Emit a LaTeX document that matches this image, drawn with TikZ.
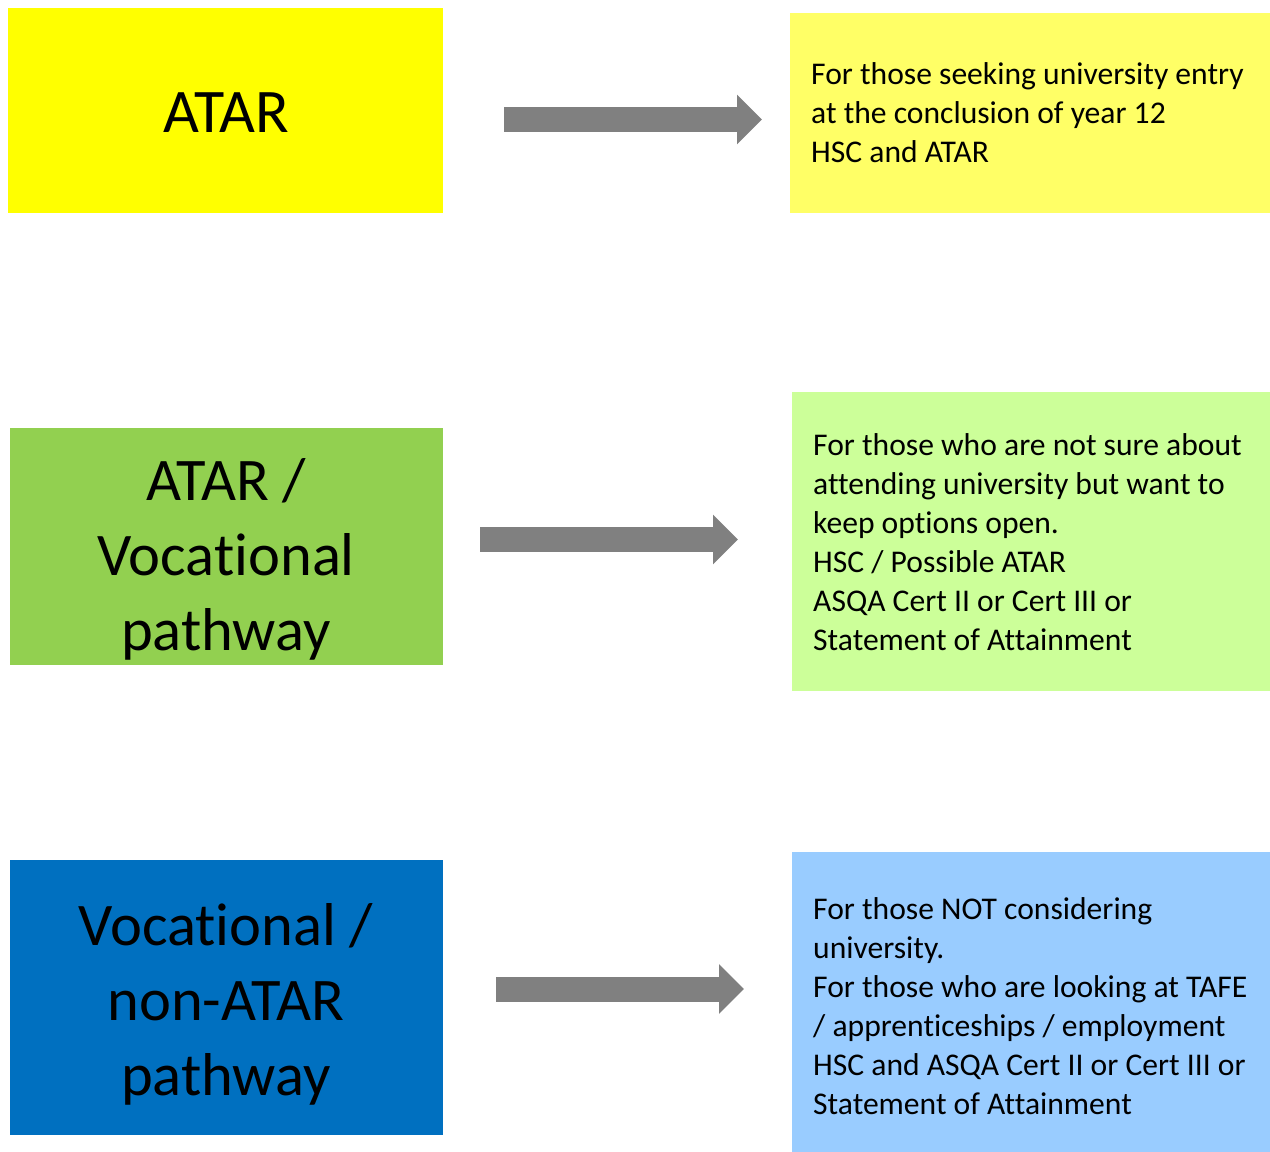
\documentclass[tikz,border=0pt]{standalone}
\usepackage{fontspec}
\setmainfont{Carlito}[Ligatures=NoCommon]
\usetikzlibrary{arrows.meta}
\definecolor{ylw}{HTML}{FFFF00}
\definecolor{ylwl}{HTML}{FFFF66}
\definecolor{grn}{HTML}{92D050}
\definecolor{grnl}{HTML}{CCFF99}
\definecolor{blu}{HTML}{0070C0}
\definecolor{blul}{HTML}{99CCFF}
\definecolor{arr}{HTML}{808080}
\begin{document}
\begin{tikzpicture}[x=1pt,y=-1pt,
  box/.style={draw=none, inner sep=0pt, outer sep=0pt, anchor=north west},
  big/.style={font=\fontsize{60.5}{75}\selectfont, text width=433pt, align=flush center, inner sep=0pt, anchor=base},
  small/.style={font=\fontsize{31.6}{39}\selectfont, text width=455pt, align=flush left, inner sep=0pt, anchor=base west},
  blockarrow/.style={draw=arr, line width=25pt, -{Triangle[length=25pt,width=48pt]}}]
\useasboundingbox (0,0) rectangle (1270,1152);
% left boxes
\node[box, fill=ylw, minimum width=435pt, minimum height=205pt] (L1) at (8,8) {};
\node[box, fill=grn, minimum width=433pt, minimum height=237pt] (L2) at (10,428) {};
\node[box, fill=blu, minimum width=433pt, minimum height=275pt] (L3) at (10,860) {};
% right boxes
\node[box, fill=ylwl, minimum width=480pt, minimum height=200pt] (R1) at (790,13) {};
\node[box, fill=grnl, minimum width=478pt, minimum height=299pt] (R2) at (792,392) {};
\node[box, fill=blul, minimum width=478pt, minimum height=300pt] (R3) at (792,852) {};
% left texts
\node[big, font=\fontsize{62}{75}\selectfont] (T1) at (226,132) {ATAR};
\node[big] (T2) at (226,500) {ATAR /\\Vocational\\pathway};
\node[big] (T3) at (226,945) {Vocational /\\non-ATAR\\pathway};
% right texts
\node[small] (S1) at (811,84) {For those seeking university entry\\at the conclusion of year 12\\HSC and ATAR};
\node[small] (S2) at (813,455) {For those who are not sure about\\attending university but want to\\keep options open.\\HSC / Possible ATAR\\ASQA Cert II or Cert III or\\Statement of Attainment};
\node[small] (S3) at (813,919) {For those NOT considering\\university.\\For those who are looking at TAFE\\/ apprenticeships / employment\\HSC and ASQA Cert II or Cert III or\\Statement of Attainment};
% arrows
\coordinate (a1s) at (504,119.5);
\coordinate (a1e) at (762,119.5);
\coordinate (a2s) at (480,539.5);
\coordinate (a2e) at (738,539.5);
\coordinate (a3s) at (496,989);
\coordinate (a3e) at (744,989);
\draw[blockarrow] (a1s) -- (a1e);
\draw[blockarrow] (a2s) -- (a2e);
\draw[blockarrow] (a3s) -- (a3e);
\end{tikzpicture}
\end{document}
